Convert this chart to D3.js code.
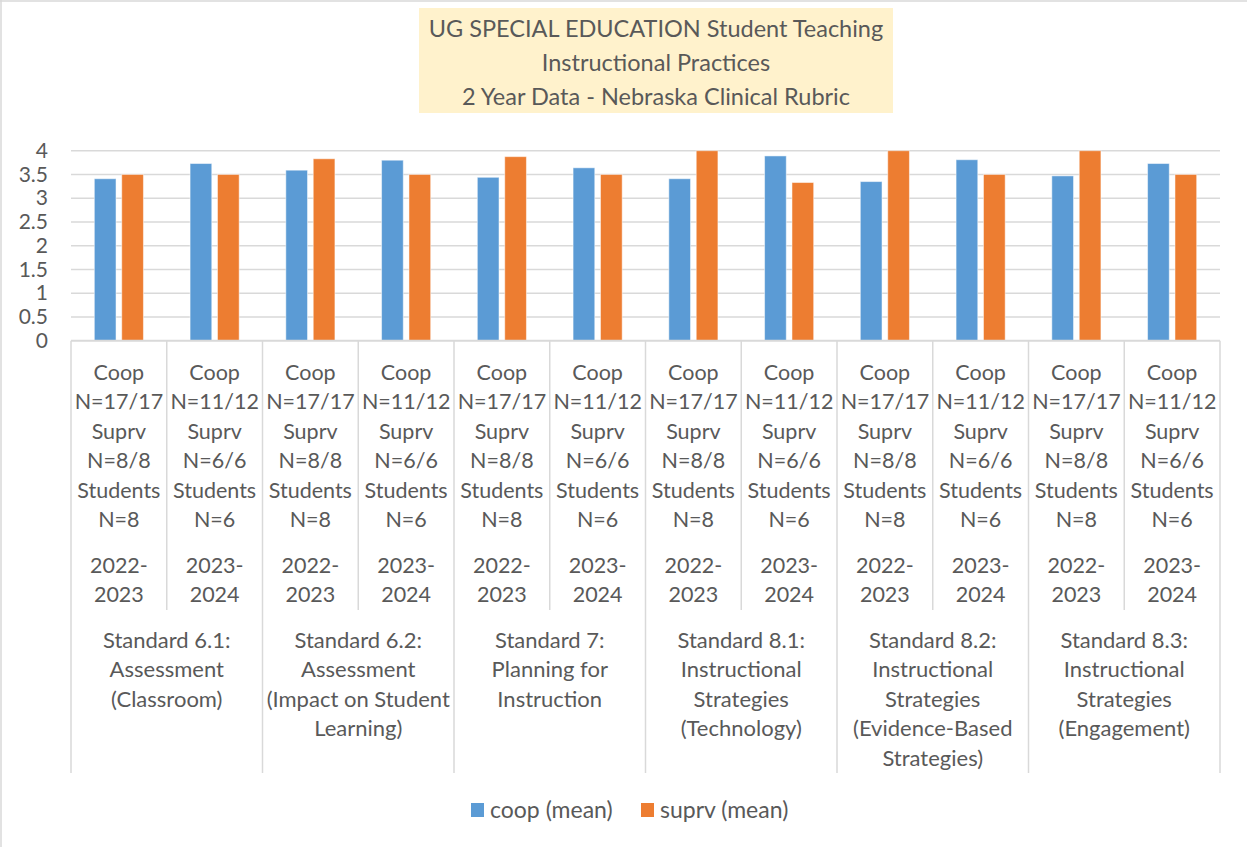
<!DOCTYPE html>
<html>
<head>
<meta charset="utf-8">
<script src="https://cdnjs.cloudflare.com/ajax/libs/d3/7.8.5/d3.min.js"></script>
<style>
  html, body { margin: 0; padding: 0; background: #fff; }
  text { font-family: Lato, "Open Sans", sans-serif; fill: #595959; }
</style>
</head>
<body>
<svg id="chart" width="1247" height="847"></svg>
<script>
// 数据
const titleLines = [
    "UG SPECIAL EDUCATION Student Teaching",
    "Instructional Practices",
    "2 Year Data - Nebraska Clinical Rubric"
];

const standards = [
    ["Standard 6.1:", "Assessment", "(Classroom)"],
    ["Standard 6.2:", "Assessment", "(Impact on Student", "Learning)"],
    ["Standard 7:", "Planning for", "Instruction"],
    ["Standard 8.1:", "Instructional", "Strategies", "(Technology)"],
    ["Standard 8.2:", "Instructional", "Strategies", "(Evidence-Based", "Strategies)"],
    ["Standard 8.3:", "Instructional", "Strategies", "(Engagement)"]
];

const years = ["2022-2023", "2023-2024"];

const sampleLines = {
    "2022-2023": ["Coop", "N=17/17", "Suprv", "N=8/8", "Students", "N=8"],
    "2023-2024": ["Coop", "N=11/12", "Suprv", "N=6/6", "Students", "N=6"]
};

const seriesNames = ["coop (mean)", "suprv (mean)"];
const seriesColors = ["#5B9BD5", "#ED7D31"];

const coopMean  = [3.41, 3.73, 3.59, 3.80, 3.44, 3.64, 3.41, 3.89, 3.35, 3.81, 3.47, 3.73];
const suprvMean = [3.50, 3.50, 3.83, 3.50, 3.875, 3.50, 4.00, 3.33, 4.00, 3.50, 4.00, 3.50];

const yTicks = [0, 0.5, 1, 1.5, 2, 2.5, 3, 3.5, 4];

// 类别 (每个标准两个年份)
const categories = [];
standards.forEach((s, gi) => {
    years.forEach((y, yi) => {
        categories.push({ id: gi + "-" + y, group: gi, year: y, index: gi * 2 + yi });
    });
});

const svg = d3.select("#chart");
const W = 1247, H = 847;
const plot = { left: 71, right: 1220, top: 150.7, bottom: 340.7 };
const gridColor = "#D9D9D9";

// 图表边框
svg.append("line").attr("x1", 1).attr("x2", 1).attr("y1", 0).attr("y2", H)
    .attr("stroke", gridColor).attr("stroke-width", 1.5);
svg.append("line").attr("x1", 0).attr("x2", W).attr("y1", 1).attr("y2", 1)
    .attr("stroke", gridColor).attr("stroke-width", 1.5);

// 标题
svg.append("rect").attr("x", 419).attr("y", 8).attr("width", 474).attr("height", 105)
    .attr("fill", "#FFF2CC");
svg.append("g").selectAll("text").data(titleLines).enter().append("text")
    .attr("x", 656)
    .attr("y", (d, i) => 28.5 + i * 34)
    .attr("dy", "0.36em")
    .attr("text-anchor", "middle")
    .style("font-size", "23.5px")
    .text(d => d);

// 比例尺
const x = d3.scaleBand()
    .domain(categories.map(c => c.id))
    .range([plot.left, plot.right])
    .paddingInner(0).paddingOuter(0);

const xInner = d3.scaleBand()
    .domain([0, 1])
    .range([0, x.bandwidth()])
    .paddingInner(0.208)
    .paddingOuter(0.851);

const y = d3.scaleLinear().domain([0, 4]).range([plot.bottom, plot.top]);

// 网格线
svg.append("g").selectAll("line").data(yTicks.filter(t => t > 0)).enter().append("line")
    .attr("x1", plot.left).attr("x2", plot.right)
    .attr("y1", d => y(d)).attr("y2", d => y(d))
    .attr("stroke", gridColor).attr("stroke-width", 1.5);

// Y轴标签
const yAxis = d3.axisLeft(y).tickValues(yTicks).tickSize(0).tickPadding(0)
    .tickFormat(d => d);
const yAxisG = svg.append("g").attr("transform", "translate(48,0)").call(yAxis);
yAxisG.select(".domain").remove();
yAxisG.selectAll("text").style("font-size", "21px").attr("fill", "#595959")
    .style("font-family", "Lato, sans-serif");

// 柱子
const seriesData = [coopMean, suprvMean];
seriesData.forEach((vals, si) => {
    svg.append("g").selectAll("rect").data(categories).enter().append("rect")
        .attr("x", c => x(c.id) + xInner(si))
        .attr("width", xInner.bandwidth())
        .attr("y", c => y(vals[c.index]))
        .attr("height", c => y(0) - y(vals[c.index]))
        .attr("fill", seriesColors[si])
        .attr("stroke", "#fff").attr("stroke-opacity", 0.5).attr("stroke-width", 1);
});

// X轴线
svg.append("line").attr("x1", plot.left).attr("x2", plot.right)
    .attr("y1", y(0)).attr("y2", y(0))
    .attr("stroke", gridColor).attr("stroke-width", 2);

// 分隔线
const boundaries = d3.range(categories.length + 1);
svg.append("g").selectAll("line").data(boundaries).enter().append("line")
    .attr("x1", i => i < categories.length ? x(categories[i].id) : plot.right)
    .attr("x2", i => i < categories.length ? x(categories[i].id) : plot.right)
    .attr("y1", y(0))
    .attr("y2", i => i % 2 === 0 ? 773 : 610)
    .attr("stroke", gridColor).attr("stroke-width", 1.5);

// 子类别标签
const subY = [372, 401.5, 431, 460.5, 490, 519.5, 565, 594.5];
const catG = svg.append("g");
categories.forEach(c => {
    const [y1, y2] = c.year.split("-");
    const lines = sampleLines[c.year].concat([y1 + "-", y2]);
    catG.append("g").selectAll("text").data(lines).enter().append("text")
        .attr("x", x(c.id) + x.bandwidth() / 2)
        .attr("y", (d, i) => subY[i])
        .attr("dy", "0.36em")
        .attr("text-anchor", "middle")
        .style("font-size", "21.5px")
        .text(d => d);
});

// 标准标签
const groupG = svg.append("g");
standards.forEach((lines, gi) => {
    const x0 = x(categories[gi * 2].id);
    groupG.append("g").selectAll("text").data(lines).enter().append("text")
        .attr("x", x0 + x.bandwidth())
        .attr("y", (d, i) => 640 + i * 29.5)
        .attr("dy", "0.36em")
        .attr("text-anchor", "middle")
        .style("font-size", "22px")
        .text(d => d);
});

// 图例
const legendX = [471, 641];
const legend = svg.append("g").selectAll("g").data(seriesNames).enter().append("g")
    .attr("transform", (d, i) => `translate(${legendX[i]},803)`);
legend.append("rect").attr("width", 13).attr("height", 14)
    .attr("fill", (d, i) => seriesColors[i]);
legend.append("text").attr("x", 19).attr("y", 7).attr("dy", "0.36em")
    .style("font-size", "23px")
    .text(d => d);
</script>
</body>
</html>
